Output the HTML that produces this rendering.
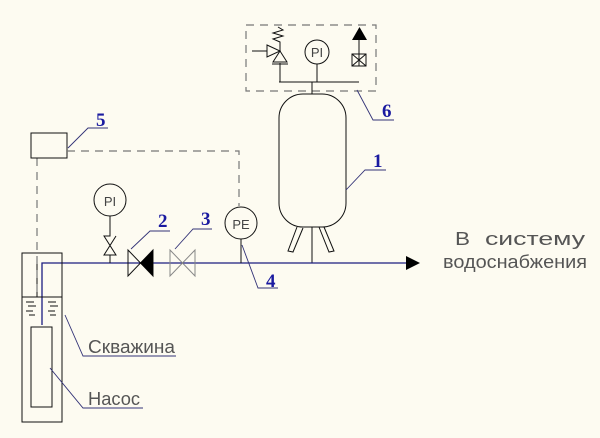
<!DOCTYPE html>
<html><head><meta charset="utf-8"><style>
html,body{margin:0;padding:0;background:#fdfbf1;}
svg{display:block}
.l{stroke:#111;stroke-width:1;fill:none}
.d{stroke:#777;stroke-width:1.2;fill:none;stroke-dasharray:8,6}
.p{stroke:#1c1c80;stroke-width:1.3;fill:none}
.b{stroke:#333377;stroke-width:0.9;fill:none}
.n{font-family:"Liberation Serif",serif;font-weight:bold;fill:#1a1aa0;font-size:19px}
.t{font-family:"Liberation Sans",sans-serif;fill:#555;font-size:18px;font-weight:300}
.c{font-family:"Liberation Sans",sans-serif;fill:#444;font-size:13px}
</style></head><body>
<svg width="600" height="438" viewBox="0 0 600 438" xmlns="http://www.w3.org/2000/svg">
<rect width="600" height="438" fill="#fdfbf1"/>
<rect x="246" y="25" width="130" height="66" class="d"/>
<path class="l" d="M279 82 H359 M317 64 V82 M312 82 V94 M280 63 V82 M359 66 V40"/>
<circle cx="317" cy="52" r="12" class="l"/>
<text x="317" y="57" class="c" text-anchor="middle">PI</text>
<rect x="352" y="54" width="14" height="12" class="l"/>
<path class="l" d="M352 54 L366 66 M366 54 L352 66"/>
<polygon points="352,40 367,40 359.5,27" fill="#000"/>
<path class="l" d="M278 27 L283 30 L273 33 L283 36 L273 39 L280 42 V51 M252 51 H267 M267 46 V56 M267 45 L280 51 L267 57 Z M280 51 L273 62 H287 Z M272 64 H288"/>
<rect x="279" y="94" width="67" height="133" rx="24" ry="24" class="l"/>
<path class="l" d="M297 227 L288 251 L293 252 L303 228 M319 227 L329 252 L334 251 L324 227 M312 227 V263"/>
<path class="p" d="M42 325 V263 H407"/>
<polygon points="406,256 420,263 406,270" fill="#000"/>
<rect x="22" y="253" width="40" height="169" class="l"/>
<path class="l" d="M22 297 H62 M37 263 V297"/>
<rect x="31" y="327" width="21" height="80" class="l"/>
<path class="l" d="M26 302 H34 M28 306 H36 M26 311 H33 M29 315 H35 M48 302 H56 M50 306 H58 M48 311 H55 M50 315 H56"/>
<path class="d" d="M37 158 V297"/>
<rect x="31" y="133" width="36" height="25" class="l"/>
<path class="d" d="M67 151 H239 V206"/>
<circle cx="110" cy="200" r="16" class="l"/>
<text x="110" y="206" class="c" text-anchor="middle" font-size="15">PI</text>
<path class="l" d="M110 216 V236 L104 236 L116 255 L104 255 L116 236 M110 255 V263"/>
<path class="l" d="M128 250 L153 276 V250 L128 276 Z"/>
<polygon points="140,263 153,250 153,276" fill="#000"/>
<path stroke="#888" fill="none" d="M170 250 L195 276 V250 L170 276 Z"/>
<circle cx="241" cy="223" r="16" class="l"/>
<text x="241" y="229" class="c" text-anchor="middle" font-size="15" fill="#666">PE</text>
<path class="l" d="M241 239 V263"/>
<path class="b" d="M131 249 L150 231 H170 M175 249 L193 229 H212 M242 245 L258 288 H278 M68 148 L88 128 H108 M346 190 L365 170 H386 M357 90 L373 120 H394 M65 315 L83 356 H176 M50 368 L83 408 H143"/>
<text x="158" y="227" class="n">2</text>
<text x="201" y="225" class="n">3</text>
<text x="266" y="287" class="n">4</text>
<text x="96" y="126" class="n">5</text>
<text x="373" y="167" class="n">1</text>
<text x="382" y="117" class="n">6</text>
<text x="88" y="353" class="t" font-size="16" textLength="87" lengthAdjust="spacingAndGlyphs">Скважина</text>
<text x="88" y="405" class="t" font-size="16" textLength="52" lengthAdjust="spacingAndGlyphs">Насос</text>
<text x="455" y="245" class="t" textLength="15" lengthAdjust="spacingAndGlyphs">В</text>
<text x="485" y="245" class="t" textLength="100" lengthAdjust="spacingAndGlyphs">систему</text>
<text x="443" y="268" class="t" textLength="144" lengthAdjust="spacingAndGlyphs">водоснабжения</text>
</svg>
</body></html>
